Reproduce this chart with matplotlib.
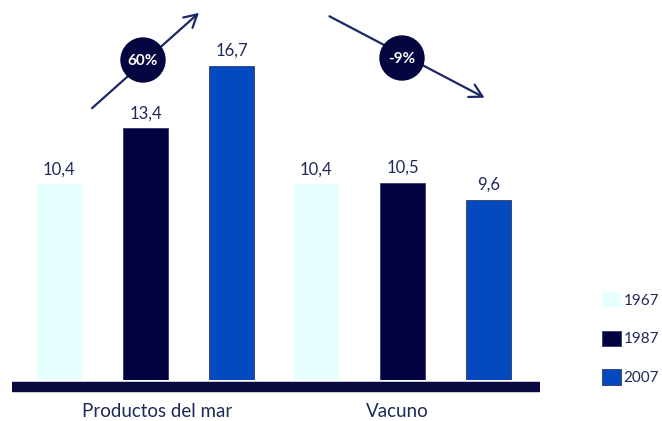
import matplotlib
matplotlib.use("Agg")
import matplotlib.pyplot as plt
import numpy as np
from matplotlib.patches import Circle

plt.rcParams["font.family"] = ["Lato", "DejaVu Sans"]

categories = ["Productos del mar", "Vacuno"]
years = ["1967", "1987", "2007"]
values = {
    "1967": [10.4, 10.4],
    "1987": [13.4, 10.5],
    "2007": [16.7, 9.6],
}
changes = ["60%", "-9%"]

colors = {"1967": "#e6ffff", "1987": "#02013f", "2007": "#0449bd"}
navy = "#0a0a40"
text_col = "#1d2a58"

W, H = 662, 421
fig = plt.figure(figsize=(W / 100, H / 100), dpi=100)
ax = fig.add_axes([0, 41 / H, 1, 380 / H])
ax.set_xlim(-0.566, 2.01)
ax.set_ylim(0, 380 / 18.8)
ax.axis("off")

x = np.arange(len(categories))
step = 0.335
width = 0.173
bars = {}
for i, yr in enumerate(years):
    pos = x + (i - 1) * step
    bars[yr] = ax.bar(pos, values[yr], width, color=colors[yr], label=yr,
                      edgecolor=colors[yr] if yr == "1967" else "#303a70",
                      linewidth=0.6 if yr != "1967" else 0)
    for px, v in zip(pos, values[yr]):
        ax.annotate(f"{v:.1f}".replace(".", ","), (px, v), xytext=(0, 5),
                    textcoords="offset points", ha="center", va="bottom",
                    fontsize=12, color=text_col)

# thick baseline
ax.plot([-0.52, 1.535], [-0.37, -0.37], color=navy, lw=7.5,
        solid_capstyle="butt", clip_on=False)

# category labels
label_offsets = [0.045, -0.02]
for xi, lab, off in zip(x, categories, label_offsets):
    ax.text(xi + off, -1.2, lab, ha="center", va="top", fontsize=13.5,
            color=text_col, clip_on=False)

# overlay for arrows and growth badges (pixel coordinates)
ov = fig.add_axes([0, 0, 1, 1], facecolor="none")
ov.set_xlim(0, W)
ov.set_ylim(H, 0)
ov.axis("off")

arrows = [((90, 110), (201, 11)), ((327, 15), (487, 99))]
badges = [(143, 60), (402, 58)]
for (start, end), centre, txt in zip(arrows, badges, changes):
    ov.annotate("", xy=end, xytext=start,
                arrowprops=dict(arrowstyle="->,head_length=0.9,head_width=0.5",
                                color="#1c2766", lw=1.6))
    ov.add_patch(Circle(centre, 22, color="#05053f", zorder=5))
    ov.text(centre[0], centre[1] + 1, txt, ha="center", va="center",
            fontsize=11, fontweight="bold", color="white", zorder=6)

leg = fig.legend(handles=[bars[y] for y in years], labels=years,
                 loc="upper left", bbox_to_anchor=(602 / W, 1 - 292 / H),
                 frameon=False, fontsize=11, handlelength=1.25,
                 handleheight=1.15, handletextpad=0.15, labelspacing=1.5,
                 borderpad=0, borderaxespad=0)
for t in leg.get_texts():
    t.set_color(text_col)

fig.savefig("out.png", dpi=100)
